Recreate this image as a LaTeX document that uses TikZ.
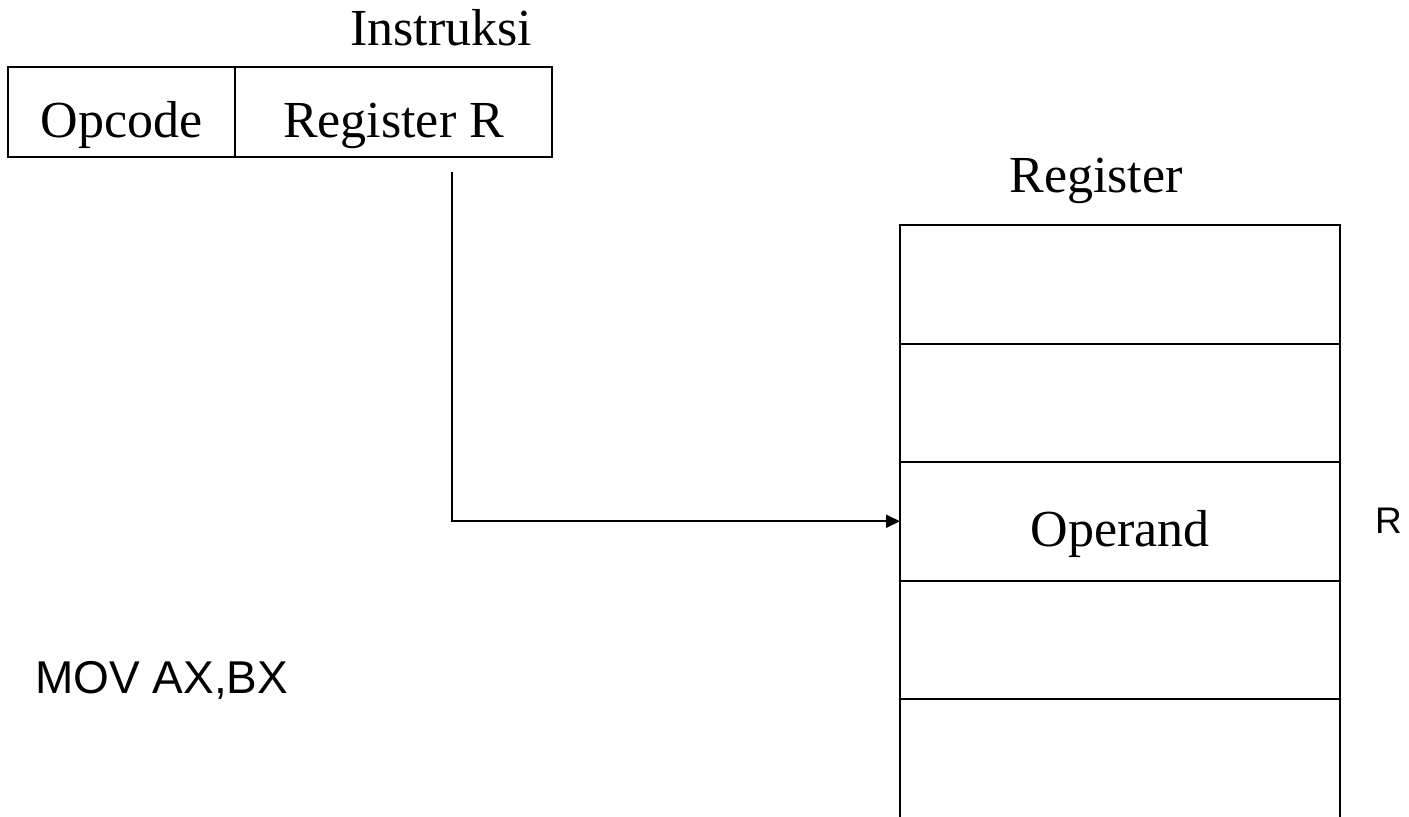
\documentclass[tikz,border=0pt]{standalone}
\usepackage{fontspec}
\setmainfont{Liberation Serif}
\setsansfont{Liberation Sans}
\usetikzlibrary{arrows.meta}

\tikzset{
  cell/.style={draw, line width=2pt, inner sep=0pt, outer sep=0pt,
    text height=50pt, text depth=0pt,
    font=\fontsize{52}{60}\selectfont},
  label/.style={inner sep=0pt, font=\fontsize{52}{60}\selectfont},
  sanslabel/.style={inner sep=0pt, font=\sffamily\fontsize{46}{54}\selectfont},
  conn/.style={line width=1.8pt, -{Triangle[length=14pt,width=13pt]}},
}

\begin{document}
\begin{tikzpicture}[x=1pt,y=-1pt]
  \useasboundingbox (0,0) rectangle (1409,817);
  \clip (0,0) rectangle (1409,817);

  % instruction word
  \node[label, anchor=base] (instr) at (441,45) {Instruksi};
  \node[cell, minimum width=227, minimum height=90, anchor=north west] (opc) at (8,67) {Opcode};
  \node[cell, minimum width=317, minimum height=90, anchor=north west] (reg) at (235,67) {Register R};

  % register file
  \node[label, anchor=base] (regtitle) at (1096,192) {Register};
  \node[cell, minimum width=440, minimum height=118.5, anchor=north west] (r1) at (900,225) {};
  \node[cell, minimum width=440, minimum height=118.5, anchor=north west] (r2) at (r1.south west) {};
  \node[cell, minimum width=440, minimum height=118.5, anchor=north west] (r3) at (r2.south west) {Operand};
  \node[cell, minimum width=440, minimum height=118.5, anchor=north west] (r4) at (r3.south west) {};
  \node[cell, minimum width=440, minimum height=140, anchor=north west] (r5) at (r4.south west) {};

  \coordinate (rpos) at (1375,0);
  \node[sanslabel, font=\sffamily\fontsize{37}{44}\selectfont, anchor=west] (rname) at (rpos |- r3.center) {R};

  % address field points at register R
  \coordinate (tap) at (452,172);
  \draw[conn] (tap) |- (r3.west);

  % example instruction
  \node[sanslabel, anchor=west] (example) at (35,680) {MOV AX,BX};
\end{tikzpicture}
\end{document}
